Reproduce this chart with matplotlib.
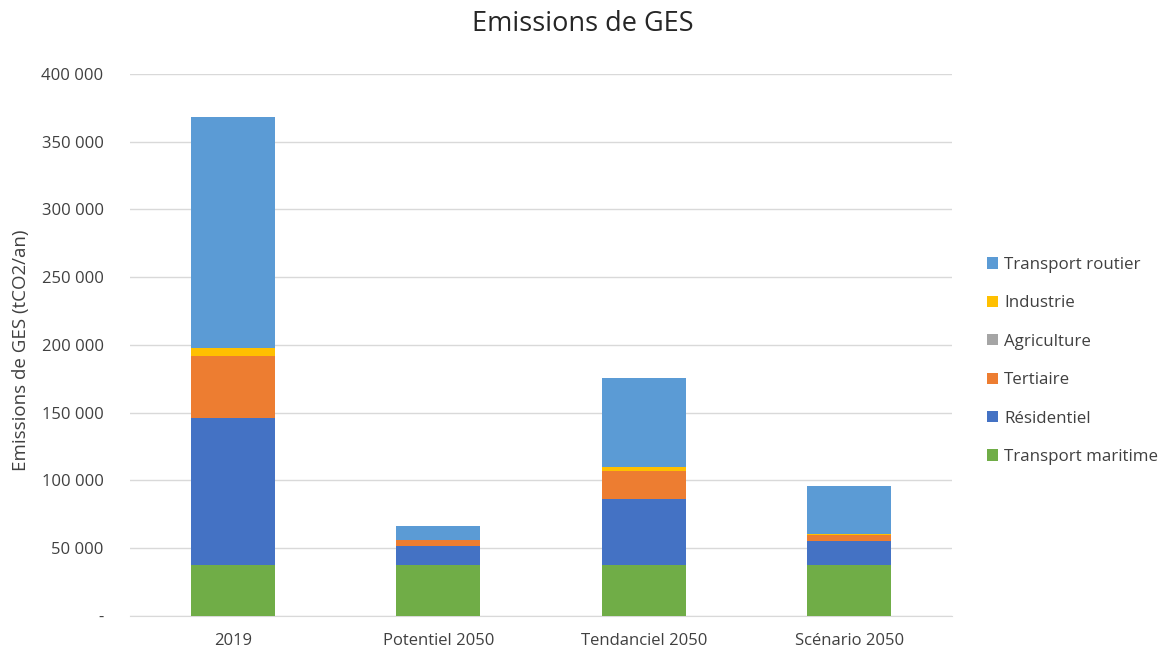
import matplotlib
matplotlib.use("Agg")
import matplotlib.pyplot as plt
import numpy as np
from matplotlib.patches import Patch
from matplotlib.ticker import FuncFormatter

plt.rcParams['font.family'] = ['Open Sans', 'DejaVu Sans']

categories = ["2019", "Potentiel 2050", "Tendanciel 2050", "Scénario 2050"]
transport_maritime = [38000, 38000, 38000, 38000]
residentiel = [108000, 13500, 48500, 17000]
tertiaire = [46000, 4800, 20300, 5000]
agriculture = [0, 0, 0, 0]
industrie = [5400, 0, 3300, 500]
transport_routier = [171000, 10000, 65700, 35500]

series = [
    ("Transport maritime", transport_maritime, "#70AD47"),
    ("Résidentiel", residentiel, "#4472C4"),
    ("Tertiaire", tertiaire, "#ED7D31"),
    ("Agriculture", agriculture, "#A5A5A5"),
    ("Industrie", industrie, "#FFC000"),
    ("Transport routier", transport_routier, "#5B9BD5"),
]

fig = plt.figure(figsize=(11.66, 6.5), dpi=100)
ax = fig.add_axes([0.1115, 0.0523, 0.705, 0.834])

x = np.arange(len(categories))
bottom = np.zeros(len(categories))
for name, vals, col in series:
    ax.bar(x, vals, bottom=bottom, width=0.41, color=col, zorder=3)
    bottom += np.array(vals)

ax.set_xlim(-0.5, 3.5)
ax.set_ylim(0, 400000)
ax.set_yticks(np.arange(0, 400001, 50000))

def fmt(v, pos):
    if v == 0:
        return "-"
    return f"{int(v):,}".replace(",", " ")

ax.yaxis.set_major_formatter(FuncFormatter(fmt))
ax.set_xticks(x)
ax.set_xticklabels(categories)
ax.grid(axis='y', color='#D9D9D9', linewidth=1, zorder=0)
for s in ['top', 'right', 'left']:
    ax.spines[s].set_visible(False)
ax.spines['bottom'].set_color('#D9D9D9')
ax.tick_params(axis='both', length=0, labelsize=12, colors='#404040')
ax.tick_params(axis='y', pad=19)
ax.tick_params(axis='x', pad=12)
ax.set_ylabel("Emissions de GES (tCO2/an)", fontsize=13.5, color='#404040')
ax.yaxis.set_label_coords(-0.122, 0.49)

fig.suptitle("Emissions de GES", fontsize=19.5, color='#262626', y=0.985, x=0.5)

handles = [Patch(facecolor=col, label=name) for name, vals, col in reversed(series)]
fig.legend(handles=handles, loc='upper left', bbox_to_anchor=(0.833, 0.628),
           frameon=False, fontsize=12.2, handlelength=0.65, handleheight=0.65,
           handletextpad=0.4, labelspacing=1.32, labelcolor='#404040')

fig.savefig("out.png", dpi=100)
